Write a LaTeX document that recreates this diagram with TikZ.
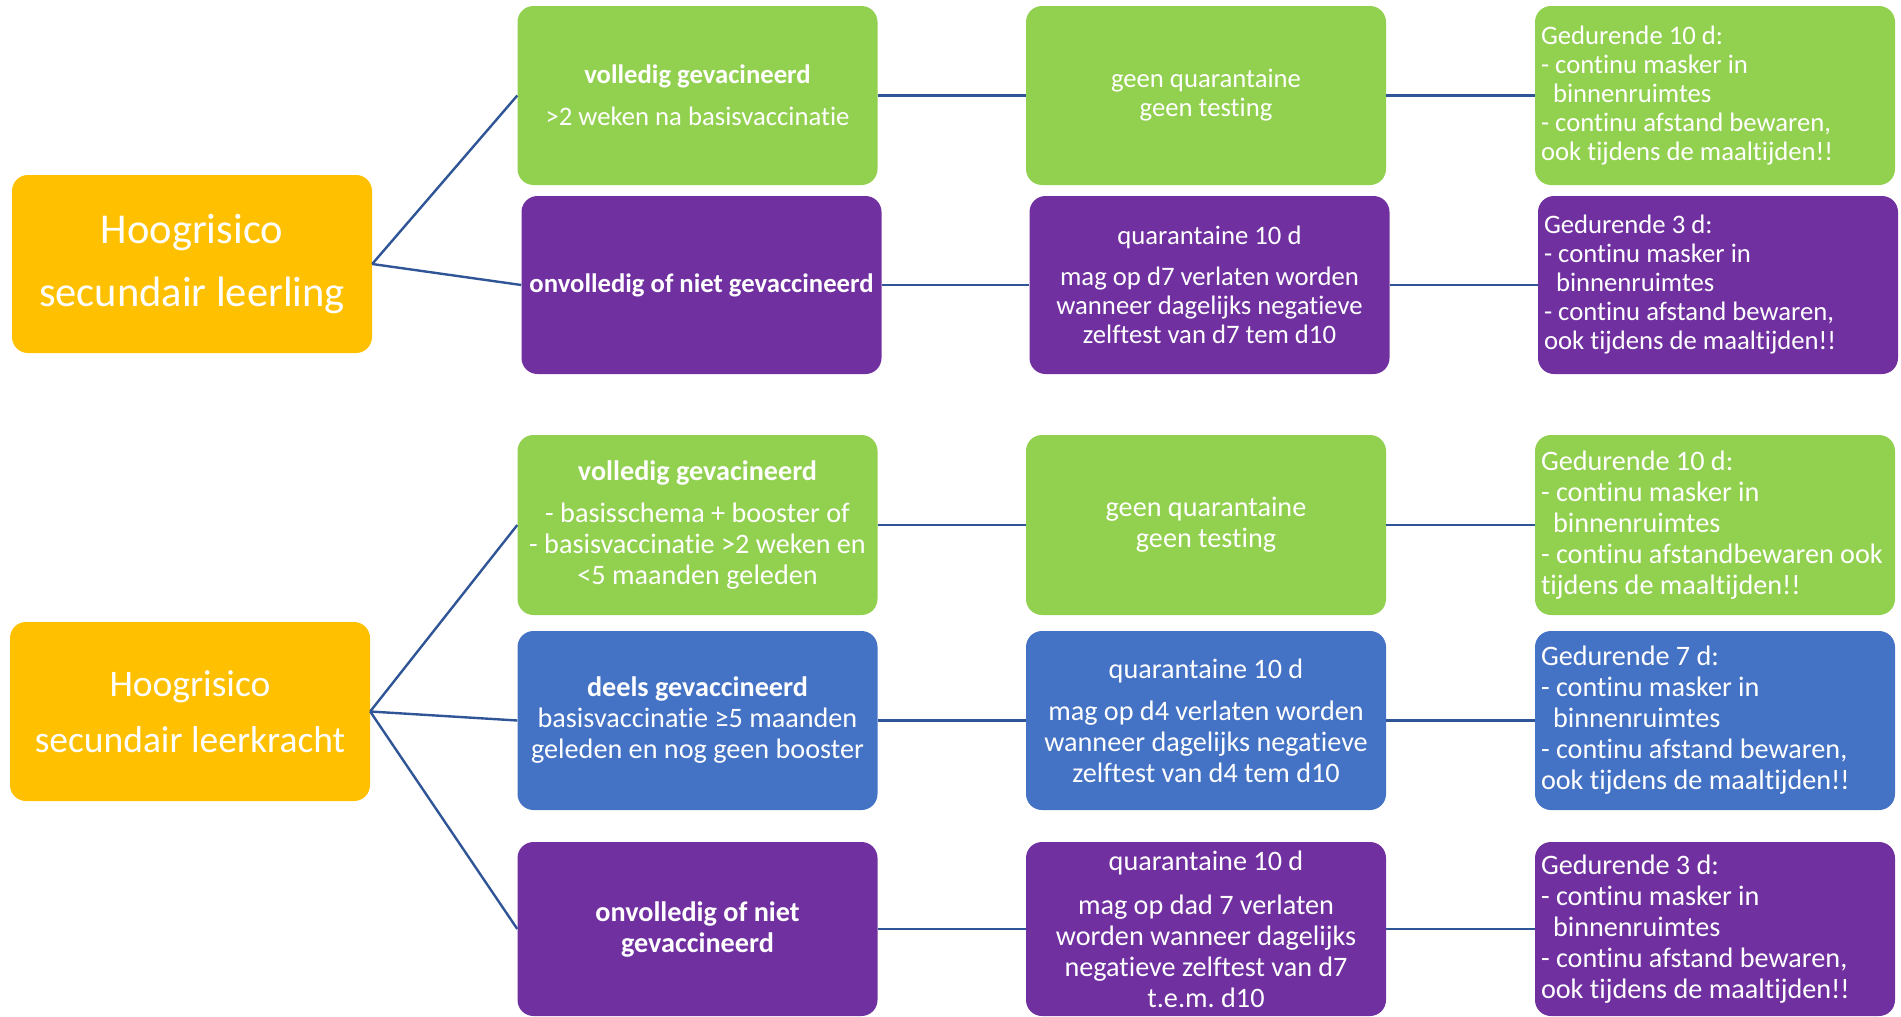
\documentclass[tikz,border=0pt]{standalone}
\usepackage{fontspec}
\setmainfont{Carlito}[Ligatures=CommonOff]
\definecolor{grn}{HTML}{92D050}
\definecolor{pur}{HTML}{7030A0}
\definecolor{blu}{HTML}{4472C4}
\definecolor{org}{HTML}{FFC000}
\definecolor{lnc}{HTML}{2F5597}
\begin{document}
\frenchspacing
\begin{tikzpicture}[x=1pt,y=-1pt,
  box/.style={rounded corners=16pt, minimum width=360pt, minimum height=179pt, inner sep=0pt, text=white, align=center},
  txtl/.style={inner sep=0pt, text=white, align=left, anchor=west},
  ts/.style={font=\fontsize{26.7}{29}\selectfont},
  tb/.style={font=\fontsize{28.2}{31}\selectfont},
  conn/.style={draw=lnc, line width=2.4pt}]
\useasboundingbox (0,0) rectangle (1901,1017);
% ---------- top section ----------
\node[box,fill=org,font=\fontsize{42.5}{63}\selectfont,minimum height=178pt] (o1) at (192,264) {Hoogrisico\\secundair leerling};
\node[box,fill=grn,ts] (g1) at (697.5,95.5) {\textbf{volledig gevacineerd}\\[13pt]>2 weken na basisvaccinatie};
\node[box,fill=pur,ts,minimum height=178pt] (p1) at (701.5,285) {\textbf{onvolledig of niet gevaccineerd}};
\node[box,fill=grn,ts] (g2) at (1206,95.5) {geen quarantaine\\geen testing};
\node[box,fill=pur,ts,minimum height=178pt] (p2) at (1209.5,285) {quarantaine 10 d\\[12pt]mag op d7 verlaten worden\\wanneer dagelijks negatieve\\zelftest van d7 tem d10};
\node[box,fill=grn] (g3) at (1715,95.5) {};
\node[txtl,ts] (g3t) at ([xshift=6pt]g3.west) {Gedurende 10 d:\\- continu masker in\\\hspace*{12pt}binnenruimtes\\- continu afstand bewaren,\\ook tijdens de maaltijden!!};
\node[box,fill=pur,minimum height=178pt] (p3) at (1718,285) {};
\node[txtl,ts] (p3t) at ([xshift=6pt]p3.west) {Gedurende 3 d:\\- continu masker in\\\hspace*{12pt}binnenruimtes\\- continu afstand bewaren,\\ook tijdens de maaltijden!!};
\draw[conn] (o1.east) -- (g1.west);
\draw[conn] (o1.east) -- (p1.west);
\draw[conn] (g1.east) -- (g2.west);
\draw[conn] (g2.east) -- (g3.west);
\draw[conn] (p1.east) -- (p2.west);
\draw[conn] (p2.east) -- (p3.west);
% ---------- bottom section ----------
\node[box,fill=org,font=\fontsize{37.5}{56}\selectfont] (o2) at (190,711.5) {Hoogrisico\\secundair leerkracht};
\node[box,fill=grn,tb,minimum height=180pt] (G1) at (697.5,525) {\textbf{volledig gevacineerd}\\[11pt]- basisschema + booster of\\- basisvaccinatie >2 weken en\\<5 maanden geleden};
\node[box,fill=blu,tb] (B1) at (697.5,720.5) {\textbf{deels gevaccineerd}\\basisvaccinatie ≥5 maanden\\geleden en nog geen booster};
\node[box,fill=pur,tb,minimum height=174pt] (P1) at (697.5,929) {\textbf{onvolledig of niet}\\\textbf{gevaccineerd}};
\node[box,fill=grn,tb,minimum height=180pt] (G2) at (1206,525) {geen quarantaine\\geen testing};
\node[box,fill=blu,tb] (B2) at (1206,720.5) {quarantaine 10 d\\[11pt]mag op d4 verlaten worden\\wanneer dagelijks negatieve\\zelftest van d4 tem d10};
\node[box,fill=pur,tb,minimum height=174pt] (P2) at (1206,929) {quarantaine 10 d\\[13pt]mag op dad 7 verlaten\\worden wanneer dagelijks\\negatieve zelftest van d7\\t.e.m. d10};
\node[box,fill=grn,minimum height=180pt] (G3) at (1715,525) {};
\node[txtl,tb] (G3t) at ([xshift=6pt]G3.west) {Gedurende 10 d:\\- continu masker in\\\hspace*{12pt}binnenruimtes\\- continu afstandbewaren ook\\tijdens de maaltijden!!};
\node[box,fill=blu] (B3) at (1715,720.5) {};
\node[txtl,tb] (B3t) at ([xshift=6pt]B3.west) {Gedurende 7 d:\\- continu masker in\\\hspace*{12pt}binnenruimtes\\- continu afstand bewaren,\\ook tijdens de maaltijden!!};
\node[box,fill=pur,minimum height=174pt] (P3) at (1715,929) {};
\node[txtl,tb] (P3t) at ([xshift=6pt]P3.west) {Gedurende 3 d:\\- continu masker in\\\hspace*{12pt}binnenruimtes\\- continu afstand bewaren,\\ook tijdens de maaltijden!!};
\draw[conn] (o2.east) -- (G1.west);
\draw[conn] (o2.east) -- (B1.west);
\draw[conn] (o2.east) -- (P1.west);
\draw[conn] (G1.east) -- (G2.west);
\draw[conn] (G2.east) -- (G3.west);
\draw[conn] (B1.east) -- (B2.west);
\draw[conn] (B2.east) -- (B3.west);
\draw[conn] (P1.east) -- (P2.west);
\draw[conn] (P2.east) -- (P3.west);
\end{tikzpicture}
\end{document}
